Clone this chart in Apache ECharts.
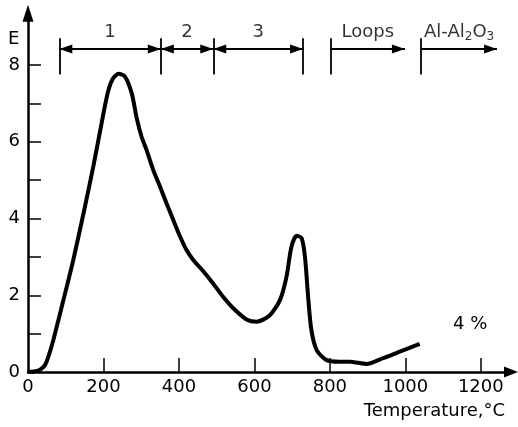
<!DOCTYPE html>
<html>
<head>
<meta charset="utf-8">
<script src="https://cdn.jsdelivr.net/npm/echarts@6/dist/echarts.min.js"></script>
<style>html,body{margin:0;padding:0;background:#fff}#c{width:518px;height:427px}</style>
</head>
<body>
<div id="c"></div>
<script>
// ---- data ----
const temperature = [0, 20, 32, 45, 54, 67, 94, 120, 147, 173, 200, 213, 226, 240, 257, 275, 288, 301, 314, 332, 350, 367, 385, 403, 420, 438, 464, 491, 517, 544, 579, 606, 641, 668, 685, 698, 712, 725, 734, 743, 751, 765, 791, 826, 853, 897, 941, 985, 1038];
const energy =      [0, 0.02, 0.06, 0.18, 0.4, 0.83, 1.88, 2.92, 4.13, 5.35, 6.74, 7.34, 7.66, 7.77, 7.7, 7.26, 6.62, 6.13, 5.79, 5.26, 4.83, 4.4, 3.96, 3.53, 3.18, 2.92, 2.63, 2.3, 1.96, 1.66, 1.37, 1.31, 1.48, 1.88, 2.48, 3.26, 3.55, 3.49, 3.0, 1.88, 1.09, 0.57, 0.31, 0.27, 0.27, 0.21, 0.36, 0.53, 0.73];
const xTickValues = [0, 200, 400, 600, 800, 1000, 1200];
const yTickValues = [0, 2, 4, 6, 8];
const yMinorTicks = [1, 2, 3, 4, 5, 6, 7, 8];
const stageBounds = [83, 352, 491, 729];     // °C, stage limits 1,2,3
const stageNames = ['1', '2', '3'];
const openArrows = [[802, 999, 'Loops'], [1042, 1243, 'Al-Al{s|2}O{s|3}']];
const arrowLevel = 8.42, barLow = 7.75, barHigh = 8.7, textLevel = 8.85;
const noteText = '4 %';

// ---- build annotations ----
const HEAD = [9, 13];
const tip = {symbol: 'triangle', symbolSize: HEAD, symbolOffset: [0, HEAD[1] / 2]};
const mk = [];
stageBounds.forEach(t => mk.push([{coord: [t, barLow], symbol: 'none'}, {coord: [t, barHigh], symbol: 'none'}]));
openArrows.forEach(a => mk.push([{coord: [a[0], barLow], symbol: 'none'}, {coord: [a[0], barHigh], symbol: 'none'}]));
for (let i = 0; i < stageNames.length; i++) {
  mk.push([Object.assign({coord: [stageBounds[i], arrowLevel]}, tip), Object.assign({coord: [stageBounds[i + 1], arrowLevel]}, tip)]);
}
openArrows.forEach(a => mk.push([{coord: [a[0], arrowLevel], symbol: 'none'}, Object.assign({coord: [a[1], arrowLevel]}, tip)]));

const labelPts = [];
for (let i = 0; i < stageNames.length; i++) {
  labelPts.push({name: stageNames[i], value: [(stageBounds[i] + stageBounds[i + 1]) / 2, textLevel]});
}
openArrows.forEach(a => labelPts.push({name: a[2], value: [(a[0] + a[1]) / 2, textLevel]}));

const FONT = 'DejaVu Sans';
const chart = echarts.init(document.getElementById('c'), null, {renderer: 'canvas'});
chart.setOption({
  animation: false,
  backgroundColor: '#fff',
  grid: {left: 28, right: 7, top: 13.2, bottom: 55, containLabel: false},
  xAxis: {
    type: 'value', min: 0, max: 1280,
    axisLine: {show: true, lineStyle: {color: '#000', width: 2.5}, symbol: ['none', 'triangle'], symbolSize: [11, 14]},
    axisTick: {show: true, inside: true, length: 14, lineStyle: {color: '#000', width: 1.5}, customValues: xTickValues.slice(1)},
    axisLabel: {show: true, customValues: xTickValues, formatter: v => String(v), color: '#000', fontFamily: FONT, fontSize: 18, margin: 6},
    splitLine: {show: false}
  },
  yAxis: {
    type: 'value', min: 0, max: 9.35,
    axisLine: {show: true, lineStyle: {color: '#000', width: 2.5}, symbol: ['none', 'triangle'], symbolSize: [11, 17]},
    axisTick: {show: true, inside: true, length: 13, lineStyle: {color: '#000', width: 1.5}, customValues: yMinorTicks},
    axisLabel: {show: true, customValues: yTickValues, formatter: v => String(v), color: '#000', fontFamily: FONT, fontSize: 18, margin: 8},
    splitLine: {show: false}
  },
  series: [
    {
      type: 'line',
      data: temperature.map((t, i) => [t, energy[i]]),
      smooth: 0.25,
      symbol: 'none',
      lineStyle: {color: '#000', width: 4},
      markLine: {
        silent: true,
        symbolSize: HEAD,
        lineStyle: {color: '#000', width: 1.8, type: 'solid'},
        label: {show: false},
        data: mk
      }
    },
    {
      type: 'scatter',
      symbolSize: 0,
      data: labelPts,
      label: {
        show: true, position: 'inside', formatter: p => p.name,
        color: '#000', fontFamily: FONT, fontSize: 18,
        rich: {s: {fontSize: 12, fontFamily: FONT, color: '#000', padding: [9, 0, 0, 0]}}
      }
    }
  ],
  graphic: [
    {type: 'text', left: 8, top: 30, style: {text: 'E', fontFamily: FONT, fontSize: 18, fill: '#000'}},
    {type: 'text', right: 13, top: 402, style: {text: 'Temperature,°C', fontFamily: FONT, fontSize: 18, fill: '#000'}},
    {type: 'text', left: 453, top: 315, style: {text: noteText, fontFamily: FONT, fontSize: 18, fill: '#000'}}
  ]
});
</script>
</body>
</html>
